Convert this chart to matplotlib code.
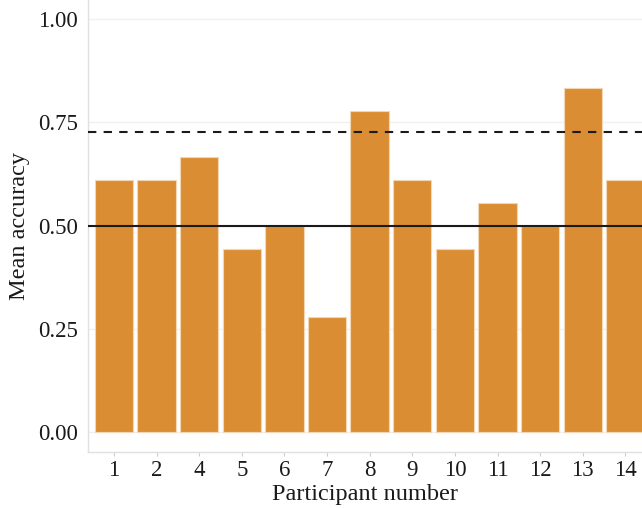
import matplotlib.pyplot as plt

# Mean accuracy per participant
participants = ["1", "2", "4", "5", "6", "7", "8", "9", "10", "11", "12", "13", "14"]
accuracy = [0.611, 0.611, 0.667, 0.444, 0.5, 0.278, 0.778, 0.611, 0.444, 0.556, 0.5, 0.833, 0.611]
chance_level = 0.5
reference_level = 0.726

plt.rcParams["font.family"] = ["Liberation Serif", "DejaVu Serif"]

fig = plt.figure(figsize=(6.42, 5.08), dpi=100)
ax = fig.add_axes([0.137, 0.110, 0.863, 0.890])

x = range(len(participants))
ax.bar(x, accuracy, width=0.9, color="#DB8D33", edgecolor="#F3D7B5", linewidth=0.8, zorder=2)
ax.axhline(chance_level, color="#1a1a1a", linewidth=1.5, zorder=3)
ax.axhline(reference_level, color="#1a1a1a", linewidth=1.5, linestyle=(0, (4, 3.5)), zorder=3)

ax.set_xticks(list(x))
ax.set_xticklabels(participants)
ax.set_yticks([0, 0.25, 0.5, 0.75, 1.0])
ax.set_yticklabels(["0.00", "0.25", "0.50", "0.75", "1.00"])
ax.set_xlim(-0.61, 12.39)
ax.set_ylim(-0.048, 1.046)

ax.grid(axis="y", color="#f0f0f0", linewidth=1, zorder=0)
for side in ["top", "right"]:
    ax.spines[side].set_visible(False)
for side in ["left", "bottom"]:
    ax.spines[side].set_color("#e0e0e0")
    ax.spines[side].set_linewidth(1)

ax.tick_params(axis="x", length=3, color="#cccccc", labelsize=16.5, labelcolor="#1a1a1a", pad=3)
ax.tick_params(axis="y", length=0, labelsize=16.5, labelcolor="#1a1a1a", pad=7)

ax.set_xlabel("Participant number", fontsize=17.5, color="#1a1a1a", labelpad=2)
ax.set_ylabel("Mean accuracy", fontsize=17.5, color="#1a1a1a", labelpad=6)

fig.savefig("out.png", dpi=100)
